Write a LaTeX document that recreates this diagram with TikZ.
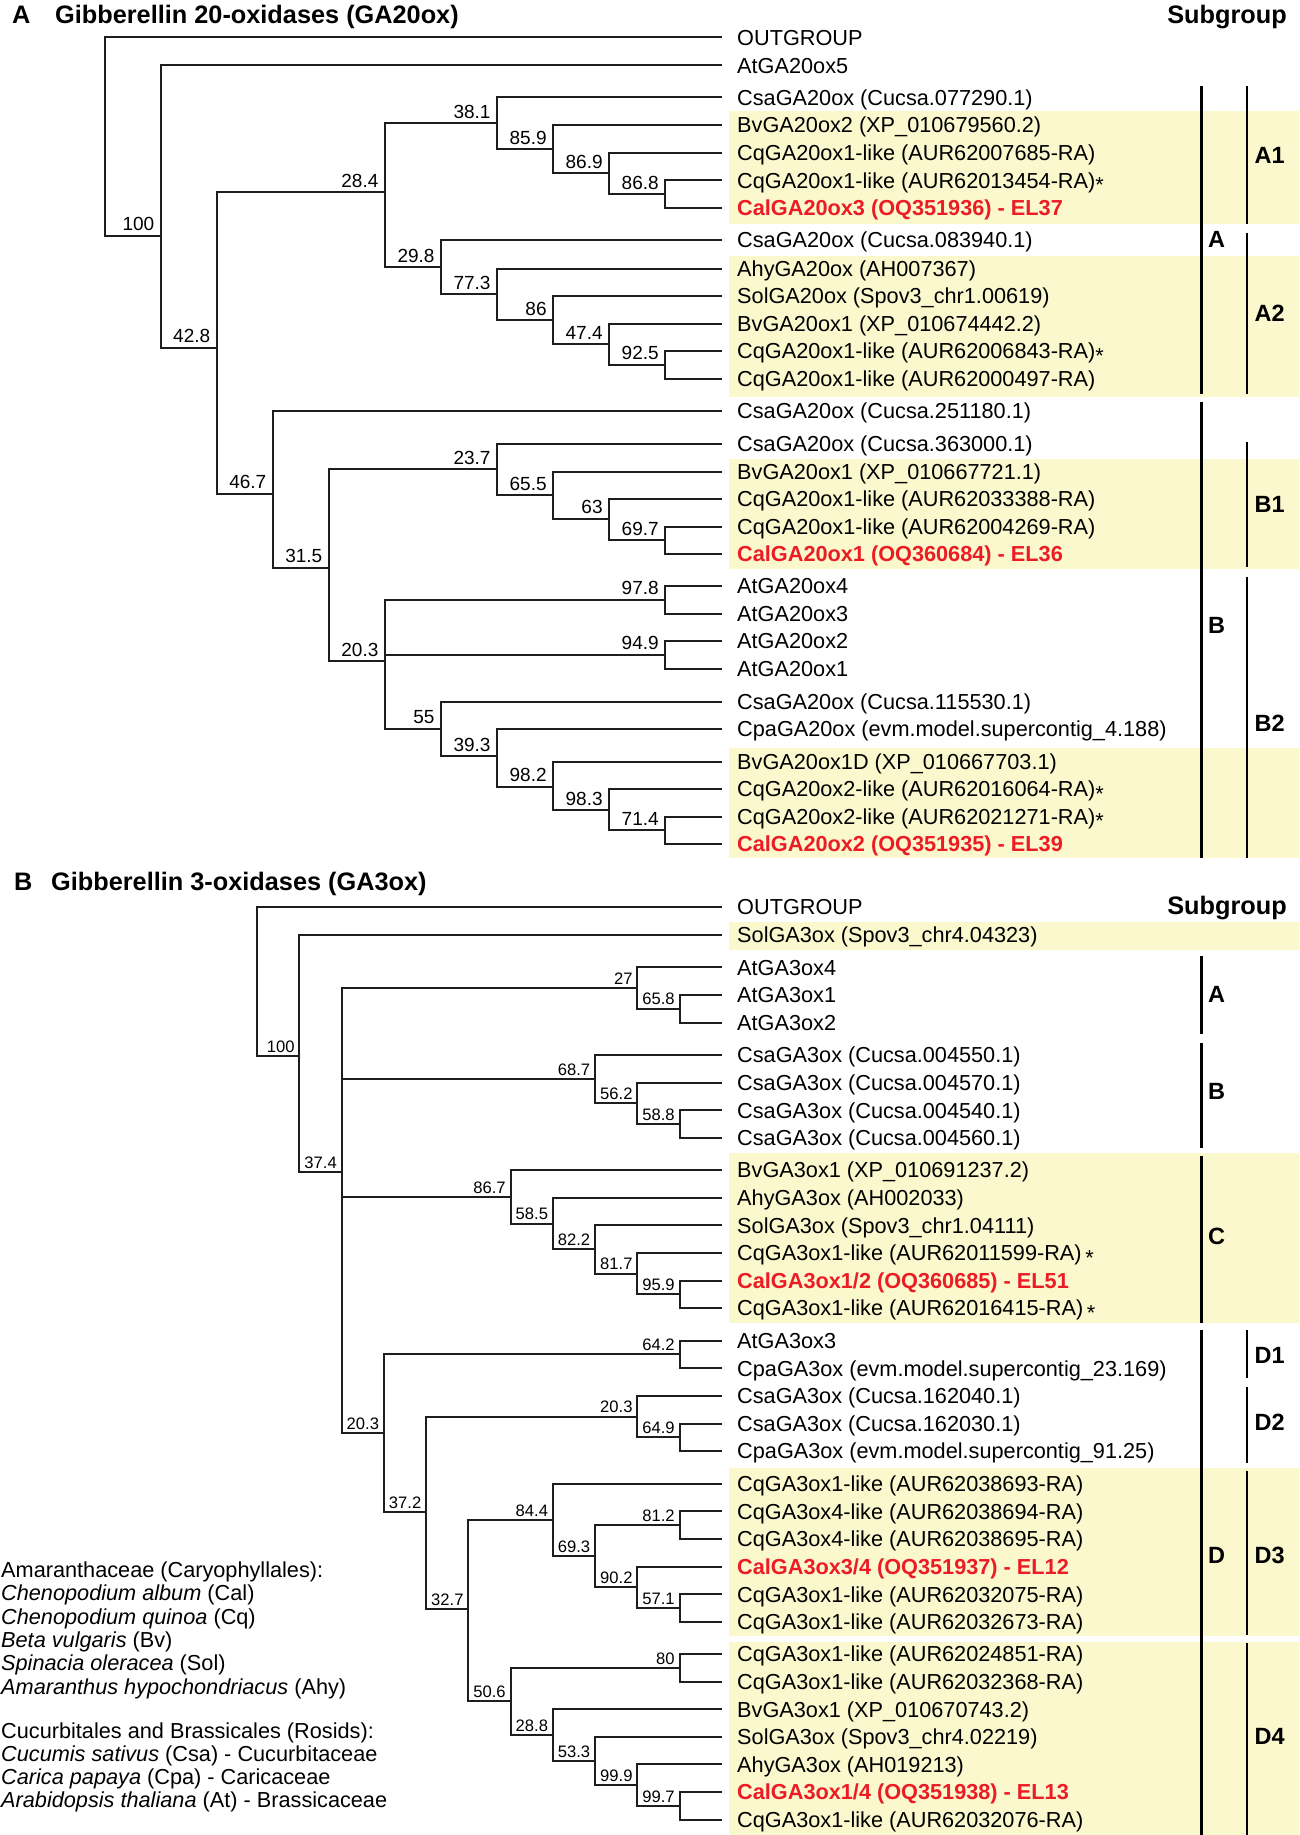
\documentclass[tikz,border=0pt]{standalone}
\usepackage{fontspec}
\setmainfont{Liberation Sans}
\usetikzlibrary{calc}
\definecolor{shadec}{HTML}{FBF8CE}
\definecolor{redc}{HTML}{EC1C24}
\definecolor{linec}{HTML}{1E1E1E}
\newcommand\mkleaf[4]{%
  \coordinate (#1) at (722,#2);
  \node[#3] (t#1) at (737,{#2+7.8}) {#4};}
\newcommand\astk{\raisebox{-0.2em}{*}}
\begin{document}
\begin{tikzpicture}[x=1pt,y=-1pt,
  br/.style={line width=2pt, draw=linec},
  leaf/.style={anchor=base west, inner sep=0pt, font=\fontsize{21.7}{24}\selectfont},
  redleaf/.style={leaf, text=redc, font=\fontsize{21.7}{24}\selectfont\bfseries},
  lgd/.style={anchor=base west, inner sep=0pt, font=\fontsize{21.7}{24}\selectfont},
  bsa/.style={anchor=base east, inner sep=0pt, font=\fontsize{19}{20}\selectfont},
  bsb/.style={anchor=base east, inner sep=0pt, font=\fontsize{16.6}{18}\selectfont},
  hdr/.style={inner sep=0pt, font=\fontsize{25.3}{27}\selectfont\bfseries},
  sub/.style={anchor=west, inner sep=0pt, font=\fontsize{23.5}{25}\selectfont\bfseries},
  bar/.style={line width=2.8pt, draw=black},
  shade/.style={fill=shadec, draw=none}]
\useasboundingbox (0,0) rectangle (1299,1835);
\fill[white] (0,0) rectangle (1299,1835);

% ---------- shading ----------
\fill[shade] (729,111.5) rectangle (1299,224);
\fill[shade] (729,256) rectangle (1299,396.7);
\fill[shade] (729,459.3) rectangle (1299,569.3);
\fill[shade] (729,748.3) rectangle (1299,857.7);
\fill[shade] (729,921.7) rectangle (1299,950);
\fill[shade] (729,1152.7) rectangle (1299,1323.3);
\fill[shade] (729,1468.3) rectangle (1299,1636);
\fill[shade] (729,1641.7) rectangle (1299,1835);

% ---------- titles ----------
\node[hdr, anchor=base west] (ltA) at (12,23.8) {A};
\node[hdr, anchor=base west] (ttA) at (55,23.8) {Gibberellin 20-oxidases (GA20ox)};
\node[hdr, anchor=base east] (subA) at (1287,23.8) {Subgroup};
\node[hdr, anchor=base west] (ltB) at (14,890.8) {B};
\node[hdr, anchor=base west] (ttB) at (51,890.8) {Gibberellin 3-oxidases (GA3ox)};
\node[hdr, anchor=base east] (subB) at (1287,914.8) {Subgroup};

% ---------- panel A leaves ----------
\mkleaf{a1}{37.5}{leaf}{OUTGROUP}
\mkleaf{a2}{65.5}{leaf}{AtGA20ox5}
\mkleaf{a3}{97.5}{leaf}{CsaGA20ox (Cucsa.077290.1)}
\mkleaf{a4}{125}{leaf}{BvGA20ox2 (XP\_010679560.2)}
\mkleaf{a5}{152.7}{leaf}{CqGA20ox1-like (AUR62007685-RA)}
\mkleaf{a6}{180.3}{leaf}{CqGA20ox1-like (AUR62013454-RA)\astk}
\mkleaf{a7}{208}{redleaf}{CalGA20ox3 (OQ351936) - EL37}
\mkleaf{a8}{240}{leaf}{CsaGA20ox (Cucsa.083940.1)}
\mkleaf{a9}{268.5}{leaf}{AhyGA20ox (AH007367)}
\mkleaf{a10}{296}{leaf}{SolGA20ox (Spov3\_chr1.00619)}
\mkleaf{a11}{323.5}{leaf}{BvGA20ox1 (XP\_010674442.2)}
\mkleaf{a12}{351}{leaf}{CqGA20ox1-like (AUR62006843-RA)\astk}
\mkleaf{a13}{378.5}{leaf}{CqGA20ox1-like (AUR62000497-RA)}
\mkleaf{a14}{411}{leaf}{CsaGA20ox (Cucsa.251180.1)}
\mkleaf{a15}{444}{leaf}{CsaGA20ox (Cucsa.363000.1)}
\mkleaf{a16}{471.5}{leaf}{BvGA20ox1 (XP\_010667721.1)}
\mkleaf{a17}{499}{leaf}{CqGA20ox1-like (AUR62033388-RA)}
\mkleaf{a18}{526.5}{leaf}{CqGA20ox1-like (AUR62004269-RA)}
\mkleaf{a19}{554}{redleaf}{CalGA20ox1 (OQ360684) - EL36}
\mkleaf{a20}{586}{leaf}{AtGA20ox4}
\mkleaf{a21}{613.5}{leaf}{AtGA20ox3}
\mkleaf{a22}{641}{leaf}{AtGA20ox2}
\mkleaf{a23}{668.5}{leaf}{AtGA20ox1}
\mkleaf{a24}{701.5}{leaf}{CsaGA20ox (Cucsa.115530.1)}
\mkleaf{a25}{729}{leaf}{CpaGA20ox (evm.model.supercontig\_4.188)}
\mkleaf{a26}{761.5}{leaf}{BvGA20ox1D (XP\_010667703.1)}
\mkleaf{a27}{789}{leaf}{CqGA20ox2-like (AUR62016064-RA)\astk}
\mkleaf{a28}{816.5}{leaf}{CqGA20ox2-like (AUR62021271-RA)\astk}
\mkleaf{a29}{844}{redleaf}{CalGA20ox2 (OQ351935) - EL39}

% ---------- panel A internal nodes ----------
\coordinate (rA)   at (104.8,136.75);
\coordinate (n100) at (160.9,236);
\coordinate (n428) at (216.9,347.5);
\coordinate (n284) at (385.1,192.5);
\coordinate (n381) at (497.2,123.35);
\coordinate (n859) at (553.3,149.2);
\coordinate (n869) at (609.3,173.4);
\coordinate (n868) at (665.4,194.15);
\coordinate (n298) at (441.2,267.15);
\coordinate (n773) at (497.2,294.3);
\coordinate (n86)  at (553.3,320.05);
\coordinate (n474) at (609.3,344.1);
\coordinate (n925) at (665.4,364.75);
\coordinate (n467) at (273.0,493.5);
\coordinate (n315) at (329.0,567.5);
\coordinate (n237) at (497.2,469);
\coordinate (n655) at (553.3,495);
\coordinate (n63)  at (609.3,518.5);
\coordinate (n697) at (665.4,540.25);
\coordinate (n203) at (385.1,661);
\coordinate (n978) at (665.4,599.75);
\coordinate (n949) at (665.4,654.75);
\coordinate (n55)  at (441.2,728.5);
\coordinate (n393) at (497.2,756);
\coordinate (n982) at (553.3,786.5);
\coordinate (n983) at (609.3,810);
\coordinate (n714) at (665.4,830.25);

\foreach \p/\c in {rA/a1,rA/n100,n100/a2,n100/n428,n428/n284,n428/n467,
  n284/n381,n284/n298,n381/a3,n381/n859,n859/a4,n859/n869,n869/a5,n869/n868,
  n868/a6,n868/a7,n298/a8,n298/n773,n773/a9,n773/n86,n86/a10,n86/n474,
  n474/a11,n474/n925,n925/a12,n925/a13,n467/a14,n467/n315,n315/n237,n315/n203,
  n237/a15,n237/n655,n655/a16,n655/n63,n63/a17,n63/n697,n697/a18,n697/a19,
  n203/n978,n203/n949,n203/n55,n978/a20,n978/a21,n949/a22,n949/a23,
  n55/a24,n55/n393,n393/a25,n393/n982,n982/a26,n982/n983,n983/a27,n983/n714,
  n714/a28,n714/a29}
  \draw[br] (\p) |- (\c);

\foreach \n/\t in {n100/100,n428/42.8,n284/28.4,n381/38.1,n859/85.9,n869/86.9,
  n868/86.8,n298/29.8,n773/77.3,n86/86,n474/47.4,n925/92.5,n467/46.7,n315/31.5,
  n237/23.7,n655/65.5,n63/63,n697/69.7,n203/20.3,n978/97.8,n949/94.9,n55/55,
  n393/39.3,n982/98.2,n983/98.3,n714/71.4}
  \node[bsa] (lb\n) at ([shift={(-6.5,-5)}]\n) {\t};

% ---------- panel B leaves ----------
\mkleaf{b1}{906.5}{leaf}{OUTGROUP}
\mkleaf{b2}{935}{leaf}{SolGA3ox (Spov3\_chr4.04323)}
\mkleaf{b3}{967.3}{leaf}{AtGA3ox4}
\mkleaf{b4}{995}{leaf}{AtGA3ox1}
\mkleaf{b5}{1022.5}{leaf}{AtGA3ox2}
\mkleaf{b6}{1055}{leaf}{CsaGA3ox (Cucsa.004550.1)}
\mkleaf{b7}{1082.7}{leaf}{CsaGA3ox (Cucsa.004570.1)}
\mkleaf{b8}{1110.3}{leaf}{CsaGA3ox (Cucsa.004540.1)}
\mkleaf{b9}{1138}{leaf}{CsaGA3ox (Cucsa.004560.1)}
\mkleaf{b10}{1170}{leaf}{BvGA3ox1 (XP\_010691237.2)}
\mkleaf{b11}{1197.7}{leaf}{AhyGA3ox (AH002033)}
\mkleaf{b12}{1225.3}{leaf}{SolGA3ox (Spov3\_chr1.04111)}
\mkleaf{b13}{1253}{leaf}{CqGA3ox1-like (AUR62011599-RA)\,\astk}
\mkleaf{b14}{1280.5}{redleaf}{CalGA3ox1/2 (OQ360685) - EL51}
\mkleaf{b15}{1308}{leaf}{CqGA3ox1-like (AUR62016415-RA)\,\astk}
\mkleaf{b16}{1340.5}{leaf}{AtGA3ox3}
\mkleaf{b17}{1368.3}{leaf}{CpaGA3ox (evm.model.supercontig\_23.169)}
\mkleaf{b18}{1396}{leaf}{CsaGA3ox (Cucsa.162040.1)}
\mkleaf{b19}{1423.5}{leaf}{CsaGA3ox (Cucsa.162030.1)}
\mkleaf{b20}{1451}{leaf}{CpaGA3ox (evm.model.supercontig\_91.25)}
\mkleaf{b21}{1483.5}{leaf}{CqGA3ox1-like (AUR62038693-RA)}
\mkleaf{b22}{1511.2}{leaf}{CqGA3ox4-like (AUR62038694-RA)}
\mkleaf{b23}{1539}{leaf}{CqGA3ox4-like (AUR62038695-RA)}
\mkleaf{b24}{1566.6}{redleaf}{CalGA3ox3/4 (OQ351937) - EL12}
\mkleaf{b25}{1594.2}{leaf}{CqGA3ox1-like (AUR62032075-RA)}
\mkleaf{b26}{1621.8}{leaf}{CqGA3ox1-like (AUR62032673-RA)}
\mkleaf{b27}{1654}{leaf}{CqGA3ox1-like (AUR62024851-RA)}
\mkleaf{b28}{1681.6}{leaf}{CqGA3ox1-like (AUR62032368-RA)}
\mkleaf{b29}{1709.2}{leaf}{BvGA3ox1 (XP\_010670743.2)}
\mkleaf{b30}{1736.8}{leaf}{SolGA3ox (Spov3\_chr4.02219)}
\mkleaf{b31}{1764.4}{leaf}{AhyGA3ox (AH019213)}
\mkleaf{b32}{1792}{redleaf}{CalGA3ox1/4 (OQ351938) - EL13}
\mkleaf{b33}{1819.6}{leaf}{CqGA3ox1-like (AUR62032076-RA)}

% ---------- panel B internal nodes ----------
\coordinate (rB)    at (257.2,981);
\coordinate (m100)  at (299.4,1056);
\coordinate (m374)  at (341.7,1172);
\coordinate (m27)   at (637.4,988);
\coordinate (m658)  at (679.6,1008.75);
\coordinate (m687)  at (595.1,1079.2);
\coordinate (m562)  at (637.4,1103.4);
\coordinate (m588)  at (679.6,1124.15);
\coordinate (m867)  at (510.6,1196.8);
\coordinate (m585)  at (552.9,1223.6);
\coordinate (m822)  at (595.1,1249.45);
\coordinate (m817)  at (637.4,1273.6);
\coordinate (m959)  at (679.6,1294.25);
\coordinate (m203)  at (383.9,1433);
\coordinate (m642)  at (679.6,1354.4);
\coordinate (m372)  at (426.2,1512);
\coordinate (m203u) at (637.4,1416.6);
\coordinate (m649)  at (679.6,1437.25);
\coordinate (m327)  at (468.4,1609);
\coordinate (m844)  at (552.9,1519.85);
\coordinate (m693)  at (595.1,1556.2);
\coordinate (m812)  at (679.6,1525.1);
\coordinate (m902)  at (637.4,1587.3);
\coordinate (m571)  at (679.6,1608);
\coordinate (m506)  at (510.6,1701.45);
\coordinate (m80)   at (679.6,1667.8);
\coordinate (m288)  at (552.9,1735.1);
\coordinate (m533)  at (595.1,1760.95);
\coordinate (m999)  at (637.4,1785.1);
\coordinate (m997)  at (679.6,1805.8);

\foreach \p/\c in {rB/b1,rB/m100,m100/b2,m100/m374,
  m374/m27,m374/m687,m374/m867,m374/m203,
  m27/b3,m27/m658,m658/b4,m658/b5,
  m687/b6,m687/m562,m562/b7,m562/m588,m588/b8,m588/b9,
  m867/b10,m867/m585,m585/b11,m585/m822,m822/b12,m822/m817,m817/b13,m817/m959,
  m959/b14,m959/b15,
  m203/m642,m203/m372,m642/b16,m642/b17,
  m372/m203u,m372/m327,m203u/b18,m203u/m649,m649/b19,m649/b20,
  m327/m844,m327/m506,m844/b21,m844/m693,m693/m812,m693/m902,m812/b22,m812/b23,
  m902/b24,m902/m571,m571/b25,m571/b26,
  m506/m80,m506/m288,m80/b27,m80/b28,m288/b29,m288/m533,m533/b30,m533/m999,
  m999/b31,m999/m997,m997/b32,m997/b33}
  \draw[br] (\p) |- (\c);

\foreach \n/\t in {m100/100,m374/37.4,m27/27,m658/65.8,m687/68.7,m562/56.2,
  m588/58.8,m867/86.7,m585/58.5,m822/82.2,m817/81.7,m959/95.9,m203/20.3,
  m642/64.2,m372/37.2,m203u/20.3,m649/64.9,m327/32.7,m844/84.4,m693/69.3,
  m812/81.2,m902/90.2,m571/57.1,m506/50.6,m80/80,m288/28.8,m533/53.3,
  m999/99.9,m997/99.7}
  \node[bsb] (lb\n) at ([shift={(-4.7,-3.8)}]\n) {\t};

% ---------- subgroup bars ----------
\draw[bar] (1201.5,86.5) coordinate (sAt) -- (1201.5,393.5) coordinate (sAb);
\draw[bar] (1247,86.5) coordinate (sA1t) -- (1247,224) coordinate (sA1b);
\draw[bar] (1247,232.7) coordinate (sA2t) -- (1247,393.5) coordinate (sA2b);
\draw[bar] (1201.5,401.7) coordinate (sBt) -- (1201.5,857.5) coordinate (sBb);
\draw[bar] (1247,441.7) coordinate (sB1t) -- (1247,566.7) coordinate (sB1b);
\draw[bar] (1247,576.7) coordinate (sB2t) -- (1247,857.5) coordinate (sB2b);
\node[sub] (gA)  at (1208,239.3) {A};
\node[sub] (gA1) at (1254.5,155) {A1};
\node[sub] (gA2) at (1254.5,313.3) {A2};
\node[sub] (gB)  at (1208,625) {B};
\node[sub] (gB1) at (1254.5,504) {B1};
\node[sub] (gB2) at (1254.5,723.3) {B2};

\draw[bar] (1201.5,956) coordinate (tAt) -- (1201.5,1034) coordinate (tAb);
\draw[bar] (1201.5,1043.3) coordinate (tBt) -- (1201.5,1147.7) coordinate (tBb);
\draw[bar] (1201.5,1156) coordinate (tCt) -- (1201.5,1322.7) coordinate (tCb);
\draw[bar] (1201.5,1330) coordinate (tDt) -- (1201.5,1835) coordinate (tDb);
\draw[bar] (1247,1330) coordinate (tD1t) -- (1247,1378.3) coordinate (tD1b);
\draw[bar] (1247,1386.7) coordinate (tD2t) -- (1247,1462.7) coordinate (tD2b);
\draw[bar] (1247,1470.7) coordinate (tD3t) -- (1247,1635) coordinate (tD3b);
\draw[bar] (1247,1642.7) coordinate (tD4t) -- (1247,1835) coordinate (tD4b);
\node[sub] (hA)  at (1208,994) {A};
\node[sub] (hB)  at (1208,1091.7) {B};
\node[sub] (hC)  at (1208,1236.7) {C};
\node[sub] (hD)  at (1208,1555) {D};
\node[sub] (hD1) at (1254.5,1355) {D1};
\node[sub] (hD2) at (1254.5,1422.7) {D2};
\node[sub] (hD3) at (1254.5,1555) {D3};
\node[sub] (hD4) at (1254.5,1736.7) {D4};

% ---------- legend ----------
\node[lgd] (lg1) at (1,1577.1) {Amaranthaceae (Caryophyllales):};
\node[lgd] (lg2) at (1,1600.5) {\textit{Chenopodium album} (Cal)};
\node[lgd] (lg3) at (1,1624.0) {\textit{Chenopodium quinoa} (Cq)};
\node[lgd] (lg4) at (1,1647.4) {\textit{Beta vulgaris} (Bv)};
\node[lgd] (lg5) at (1,1670.9) {\textit{Spinacia oleracea} (Sol)};
\node[lgd] (lg6) at (1,1694.3) {\textit{Amaranthus hypochondriacus} (Ahy)};
\node[lgd] (lg7) at (1,1738.8) {Cucurbitales and Brassicales (Rosids):};
\node[lgd] (lg8) at (1,1761.6) {\textit{Cucumis sativus} (Csa) - Cucurbitaceae};
\node[lgd] (lg9) at (1,1784.4) {\textit{Carica papaya} (Cpa) - Caricaceae};
\node[lgd] (lg10) at (1,1807.2) {\textit{Arabidopsis thaliana} (At) - Brassicaceae};
\end{tikzpicture}
\end{document}
